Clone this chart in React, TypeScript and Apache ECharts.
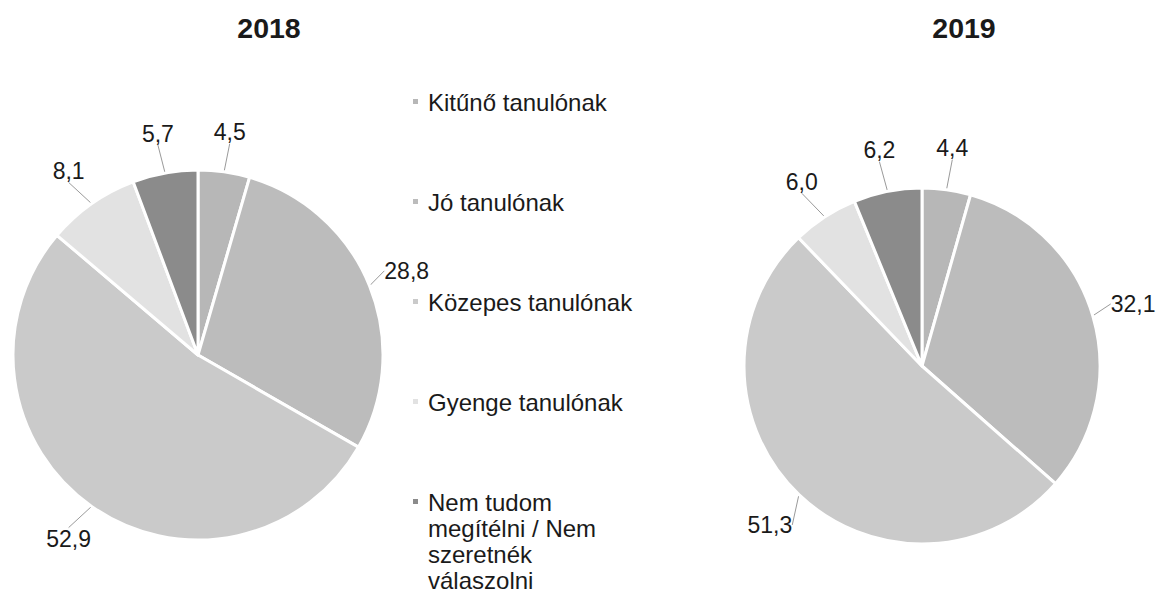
import { useEffect, useRef } from "react";
import * as echarts from "echarts";

const legendLines = [
  ["Kitűnő tanulónak"],
  ["Jó tanulónak"],
  ["Közepes tanulónak"],
  ["Gyenge tanulónak"],
  ["Nem tudom", "megítélni / Nem", "szeretnék", "válaszolni"],
];
const categories = legendLines.map((l) => l.join(" "));
const years = ["2018", "2019"];
const values2018 = [4.5, 28.8, 52.9, 8.1, 5.7];
const values2019 = [4.4, 32.1, 51.3, 6.0, 6.2];
const colors = ["#b7b7b7", "#bcbcbc", "#cacaca", "#e2e2e2", "#8b8b8b"];

const FONT = "'Liberation Sans', Arial, Helvetica, sans-serif";
const TEXT_COLOR = "#1a1a1a";

const fmt = (v: number) => v.toFixed(1).replace(".", ",");

const makeLayout = (offset: number) => (params: any) => {
  const pts = params.labelLinePoints;
  if (!pts || pts.length < 2) return {};
  const [x0, y0] = pts[0];
  const [x1, y1] = pts[1];
  const dx = x1 - x0;
  const dy = y1 - y0;
  const len = Math.hypot(dx, dy) || 1;
  return {
    x: x0 + (dx / len) * offset,
    y: y0 + (dy / len) * offset,
    align: "center",
    verticalAlign: "middle",
  };
};

const makePie = (values: number[], center: number[], radius: number, offset: number) => ({
  type: "pie",
  center,
  radius,
  startAngle: 90,
  clockwise: true,
  silent: true,
  avoidLabelOverlap: false,
  emphasis: { disabled: true },
  data: categories.map((name, i) => ({
    name,
    value: values[i],
    itemStyle: { color: colors[i] },
  })),
  itemStyle: { borderColor: "#ffffff", borderWidth: 3 },
  label: {
    show: true,
    position: "outside",
    formatter: (p: any) => fmt(p.value),
    fontSize: 23,
    color: TEXT_COLOR,
    fontFamily: FONT,
  },
  labelLine: {
    show: true,
    length: 12,
    length2: 0,
    lineStyle: { color: "#9a9a9a", width: 1 },
  },
  labelLayout: makeLayout(offset),
});

export default function App() {
  const ref = useRef<HTMLDivElement>(null);

  useEffect(() => {
    if (!ref.current) return;
    const chart = echarts.init(ref.current, undefined, { renderer: "svg" });

    const legendX = 413;
    const legendTop = 102;
    const legendStep = 100;
    const lineH = 26;

    const legendGraphics: any[] = [];
    legendLines.forEach((lines, i) => {
      const y = legendTop + i * legendStep;
      legendGraphics.push({
        type: "rect",
        shape: { x: legendX, y: y - 3, width: 5, height: 5 },
        style: { fill: colors[i] },
        silent: true,
      });
      legendGraphics.push({
        type: "text",
        x: legendX + 15,
        y: y - lineH / 2,
        style: {
          text: lines.join("\n"),
          font: `24px ${FONT}`,
          fill: TEXT_COLOR,
          verticalAlign: "top",
          align: "left",
          lineHeight: lineH,
        },
        silent: true,
      });
    });

    const titleGraphics = [
      { x: 269, y: 28, text: years[0] },
      { x: 964, y: 28, text: years[1] },
    ].map((t) => ({
      type: "text",
      x: t.x,
      y: t.y,
      style: {
        text: t.text,
        font: `bold 28.5px ${FONT}`,
        fill: TEXT_COLOR,
        align: "center",
        verticalAlign: "middle",
      },
      silent: true,
    }));

    chart.setOption({
      animation: false,
      backgroundColor: "#ffffff",
      textStyle: { fontFamily: FONT },
      graphic: [...titleGraphics, ...legendGraphics],
      series: [
        makePie(values2018, [198, 355], 185, 40),
        makePie(values2019, [922, 366], 178, 42),
      ],
    });

    return () => chart.dispose();
  }, []);

  return (
    <div
      ref={ref}
      style={{ position: "absolute", left: 0, top: 0, width: 1164, height: 593 }}
    />
  );
}
